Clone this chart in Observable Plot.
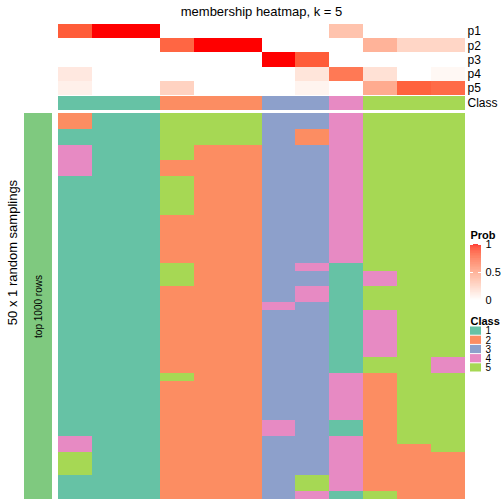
<!DOCTYPE html>
<html><head><meta charset="utf-8">
<script src="https://cdn.jsdelivr.net/npm/d3@7"></script>
<script src="https://cdn.jsdelivr.net/npm/@observablehq/plot@0.6"></script>
<style>
html,body{margin:0;padding:0;background:#fff;overflow:hidden;}
#wrap{position:relative;width:504px;height:504px;font-family:"Liberation Sans",Arial,sans-serif;}
#wrap svg{position:absolute;left:0;top:0;overflow:visible;}
#title{position:absolute;left:58px;width:407px;top:4px;text-align:center;font-size:13px;color:#000;}
</style></head><body><div id="wrap"><div id="title">membership heatmap, k = 5</div></div>
<script>
// ---- data ----
const columns = ["s1","s2","s3","s4","s5","s6","s7","s8","s9","s10","s11","s12"];
const classLevels = [1, 2, 3, 4, 5];
const classColors = ["#66C2A5", "#FC8D62", "#8DA0CB", "#E78AC3", "#A6D854"];
const probRows = ["p1", "p2", "p3", "p4", "p5"];
const p1 = [0.80, 1, 1, 0, 0, 0, 0, 0, 0.32, 0, 0, 0];
const p2 = [0, 0, 0, 0.76, 1, 1, 0, 0, 0, 0.40, 0.22, 0.22];
const p3 = [0, 0, 0, 0, 0, 0, 1, 0.80, 0, 0, 0, 0];
const p4 = [0.12, 0, 0, 0, 0, 0, 0, 0.14, 0.68, 0.16, 0, 0.04];
const p5 = [0.08, 0, 0, 0.24, 0, 0, 0, 0.06, 0, 0.44, 0.78, 0.74];
const columnClass = [1, 1, 1, 2, 2, 2, 3, 3, 4, 5, 5, 5];
// 50 random samplings (rows) x 12 samples (columns), class per cell
const samplingRows = [
"211555334555","211555334555","111555324555","111555324555","411522334555",
"411522334555","411222334555","411222334555","111522334555","111522334555",
"111522334555","111522334555","111522334555","111222334555","111222334555",
"111222334555","111222334555","111222334555","111222334555","111522341555",
"111522331455","111522331455","111222341555","111222341555","111222431555",
"111222331455","111222331455","111222331455","111222331455","111222331455",
"111222331455","111222331554","111222331554","111522334255","111222334255",
"111222334255","111222334255","111222334255","111222334255","111222431255",
"111222431255","411222334255","411222334225","511222334222","511222334222",
"511222334222","111222354222","111222354222","111222341522"
];
const rowGroup = "top 1000 rows";
const rowTitle = "50 x 1 random samplings";
const probTicks = [0, 0.5, 1];

// ---- build ----
const wrap = document.getElementById("wrap");
const font = '"Liberation Sans", Arial, sans-serif';
const baseStyle = {background: "transparent", fontFamily: font, overflow: "visible", color: "black"};
function place(svg) { wrap.appendChild(svg); }
const probColor = {type: "linear", domain: [0, 1], range: ["white", "red"], interpolate: "lab"};
const classColor = {type: "ordinal", domain: classLevels, range: classColors};

const probValues = [p1, p2, p3, p4, p5];
const probCells = [];
probRows.forEach((p, i) => probValues[i].forEach((v, c) => probCells.push({p, col: columns[c], v})));
const classCells = columnClass.map((k, c) => ({col: columns[c], k}));
const rowIdx = samplingRows.map((_, i) => i);
const cells = [];
samplingRows.forEach((s, r) => s.split("").forEach((ch, c) => cells.push({row: r, col: columns[c], k: +ch})));

const band = (domain, extra = {}) => ({type: "band", domain, padding: 0, round: false, axis: null, ...extra});

// probability annotation
place(Plot.plot({
  width: 504, height: 95, marginLeft: 58, marginRight: 39, marginTop: 24, marginBottom: 0,
  style: {...baseStyle, fontSize: "12px"},
  x: band(columns),
  y: band(probRows, {axis: "right", tickSize: 0, tickPadding: 2, label: null}),
  color: probColor,
  marks: [Plot.cell(probCells, {x: "col", y: "p", fill: "v", inset: 0, shapeRendering: "crispEdges"})]
}));

// class annotation
place(Plot.plot({
  width: 504, height: 110, marginLeft: 58, marginRight: 39, marginTop: 96, marginBottom: 0,
  style: {...baseStyle, fontSize: "12px"},
  x: band(columns),
  y: band(["Class"], {axis: "right", tickSize: 0, tickPadding: 2, label: null}),
  color: classColor,
  marks: [Plot.cell(classCells, {x: "col", y: () => "Class", fill: "k", inset: 0, shapeRendering: "crispEdges"})]
}));

// main heatmap
place(Plot.plot({
  width: 504, height: 504, marginLeft: 58, marginRight: 39, marginTop: 113, marginBottom: 5,
  style: baseStyle,
  x: band(columns),
  y: band(rowIdx),
  color: classColor,
  marks: [Plot.cell(cells, {x: "col", y: "row", fill: "k", inset: 0, shapeRendering: "crispEdges"})]
}));

// left row annotation strip
place(Plot.plot({
  width: 504, height: 504, marginLeft: 24, marginRight: 452, marginTop: 113, marginBottom: 5,
  style: baseStyle,
  x: band([rowGroup]),
  y: band([rowGroup]),
  marks: [
    Plot.cell([rowGroup], {x: d => d, y: d => d, fill: "#7FC97F", inset: 0}),
    Plot.text([rowGroup], {x: d => d, y: d => d, text: d => d, rotate: -90, fontSize: 10, fill: "black"})
  ]
}));

// overall row title (centred on the whole figure height)
place(Plot.plot({
  width: 504, height: 504, marginLeft: 12, marginRight: 480, marginTop: 0, marginBottom: 0,
  style: baseStyle,
  x: {domain: [0, 1], axis: null},
  y: {domain: [0, 1], axis: null},
  marks: [
    Plot.text([rowTitle], {frameAnchor: "left", text: d => d, rotate: -90, fontSize: 13, textAnchor: "middle", fill: "black"})
  ]
}));

// Prob legend
const steps = d3.range(0, 1, 0.01);
place(Plot.plot({
  width: 504, height: 300, marginLeft: 470, marginRight: 23, marginTop: 244, marginBottom: 0,
  style: {...baseStyle, fontSize: "11px"},
  x: {domain: [0, 1], axis: null},
  y: {domain: [0, 1], axis: "right", ticks: probTicks, tickFormat: d => String(d), tickSize: 0, tickPadding: 4, label: null},
  color: probColor,
  marks: [
    Plot.rect(steps, {x1: 0, x2: 1, y1: d => d, y2: d => Math.min(1, d + 0.011), fill: d => d + 0.005}),
    Plot.tickY(probTicks, {y: d => d, stroke: "white", insetRight: 8}),
    Plot.tickY(probTicks, {y: d => d, stroke: "white", insetLeft: 8}),
    Plot.text(["Prob"], {frameAnchor: "top-left", dy: -13, text: d => d, fontWeight: "bold", fontSize: 11, textAnchor: "start", fill: "black"})
  ]
}));

// Class legend
place(Plot.plot({
  width: 504, height: 372, marginLeft: 470, marginRight: 23, marginTop: 326, marginBottom: 0,
  style: {...baseStyle, fontSize: "10px"},
  x: band(["Class"]),
  y: band(classLevels, {axis: "right", tickSize: 0, tickPadding: 4, label: null}),
  color: classColor,
  marks: [
    Plot.cell(classLevels, {x: () => "Class", y: d => d, fill: d => d, insetTop: 0.5, insetBottom: 0.5}),
    Plot.text(["Class"], {frameAnchor: "top-left", dy: -9, text: d => d, fontWeight: "bold", fontSize: 11, textAnchor: "start", fill: "black"})
  ]
}));
</script></body></html>
